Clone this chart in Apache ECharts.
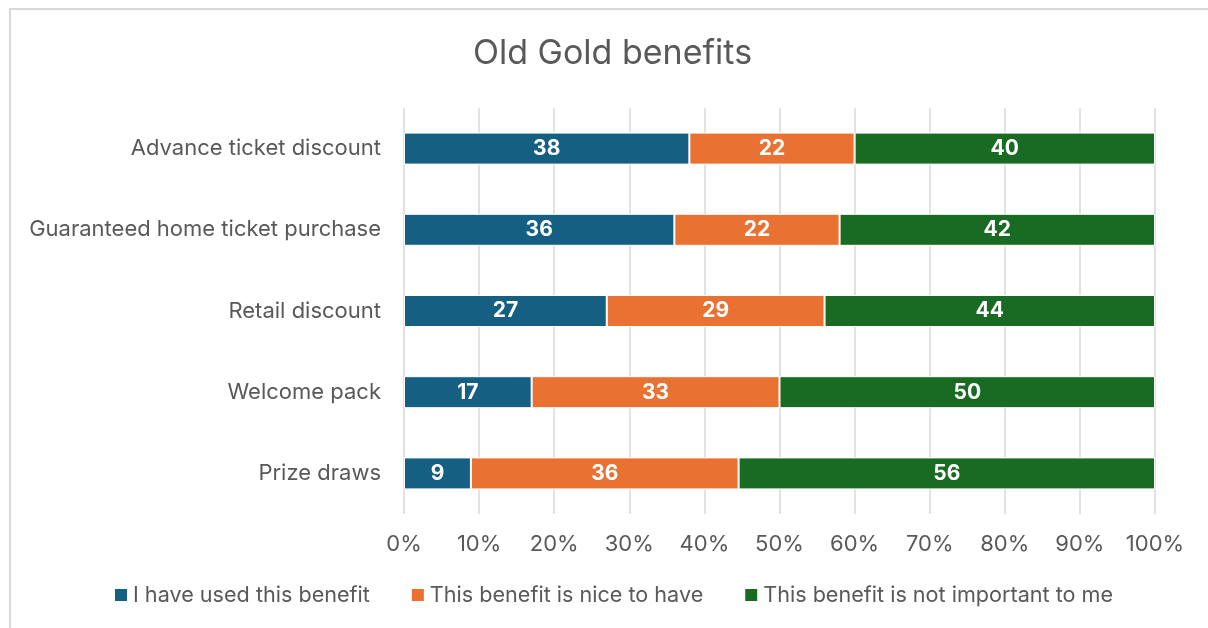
<!DOCTYPE html>
<html>
<head>
<meta charset="utf-8">
<script src="https://cdn.jsdelivr.net/npm/echarts@6/dist/echarts.min.js"></script>
<style>
  html, body { margin: 0; padding: 0; background: #fff; }
  #chart { width: 1208px; height: 628px; }
</style>
</head>
<body>
<div id="chart"></div>
<script>
// Survey responses per benefit (percent of respondents)
const categories = [
  'Advance ticket discount',
  'Guaranteed home ticket purchase',
  'Retail discount',
  'Welcome pack',
  'Prize draws'
];
const seriesNames = [
  'I have used this benefit',
  'This benefit is nice to have',
  'This benefit is not important to me'
];
const usedValues      = [38, 36, 27, 17, 9];
const niceValues      = [22, 22, 29, 33, 36];
const notImportValues = [40, 42, 44, 50, 56];
const xTickLabels = ['0%', '10%', '20%', '30%', '40%', '50%', '60%', '70%', '80%', '90%', '100%'];

const colors = ['#156082', '#E97132', '#196B24'];
const textColor = '#595959';
const fontFamily = 'Inter, "Noto Sans", sans-serif';

// 100% stacked: each row is scaled to its own total
const raw = [usedValues, niceValues, notImportValues];
const totals = categories.map((_, i) => raw.reduce((s, arr) => s + arr[i], 0));
const shares = raw.map(arr => arr.map((v, i) => v / totals[i] * 100));

// Horizontal bars list top-to-bottom, so reverse for the category axis
const rev = a => a.slice().reverse();

const chart = echarts.init(document.getElementById('chart'));
chart.setOption({
  animation: false,
  backgroundColor: '#fff',
  title: {
    text: 'Old Gold benefits',
    left: 468,
    top: 32,
    textStyle: { color: textColor, fontSize: 34, fontWeight: 'normal', fontFamily }
  },
  graphic: [{
    type: 'rect',
    shape: { x: 10, y: 9, width: 1400, height: 800 },
    style: { fill: 'none', stroke: '#d9d9d9', lineWidth: 2 },
    silent: true
  }],
  legend: {
    bottom: 17,
    left: 108,
    itemWidth: 14,
    itemHeight: 14,
    itemGap: 40,
    icon: 'rect',
    textStyle: { color: textColor, fontSize: 21.6, fontFamily },
    data: seriesNames
  },
  grid: { left: 404, right: 53, top: 108, bottom: 114 },
  xAxis: {
    type: 'value',
    min: 0,
    max: 100,
    interval: 10,
    axisLine: { show: false },
    axisTick: { show: false },
    splitLine: { lineStyle: { color: '#d9d9d9', width: 1.5 } },
    axisLabel: {
      color: textColor, fontSize: 22, fontFamily, margin: 19,
      formatter: v => xTickLabels[Math.round(v / 10)]
    }
  },
  yAxis: {
    type: 'category',
    data: rev(categories),
    axisLine: { show: false },
    axisTick: { show: false },
    axisLabel: { color: textColor, fontSize: 22, fontFamily, margin: 23 }
  },
  series: seriesNames.map((name, s) => ({
    name,
    type: 'bar',
    stack: 'total',
    barWidth: 32,
    itemStyle: { color: colors[s], borderColor: '#fff', borderWidth: 1 },
    label: {
      show: true,
      position: 'inside',
      color: '#fff',
      fontSize: 21,
      fontWeight: 'bold',
      fontFamily,
      formatter: p => String(rev(raw[s])[p.dataIndex])
    },
    data: rev(shares[s])
  }))
});
</script>
</body>
</html>
